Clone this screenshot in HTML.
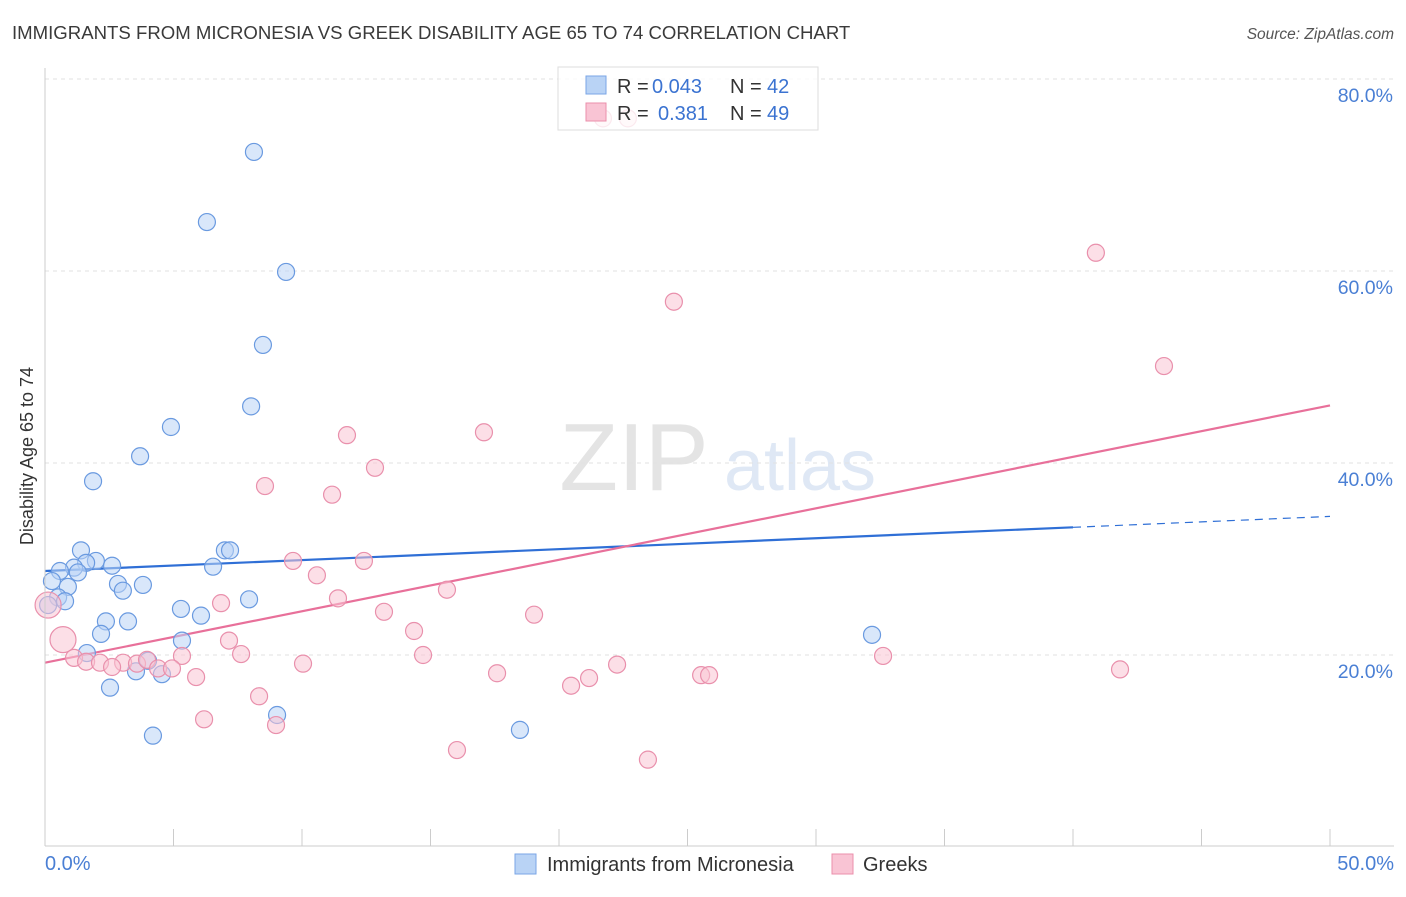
<!DOCTYPE html>
<html><head><meta charset="utf-8"><style>
body{margin:0;background:#fff;font-family:"Liberation Sans",sans-serif}
svg text{font-family:"Liberation Sans",sans-serif}
</style></head><body>
<svg id="c" width="1406" height="892" xmlns="http://www.w3.org/2000/svg">
<text x="12" y="39" font-size="18.6" fill="#3a3a3a">IMMIGRANTS FROM MICRONESIA VS GREEK DISABILITY AGE 65 TO 74 CORRELATION CHART</text>
<text x="1394" y="39" font-size="15.5" fill="#555" font-style="italic" text-anchor="end">Source: ZipAtlas.com</text>
<text x="634" y="490" font-size="96" fill="#e4e4e4" font-family="Liberation Serif" text-anchor="middle">ZIP</text>
<text x="800" y="490" font-size="72" fill="#dfe8f5" text-anchor="middle">atlas</text>
<text transform="translate(33,456) rotate(-90)" font-size="18" fill="#333" text-anchor="middle">Disability Age 65 to 74</text>
<g id="grid"></g><g id="ticks"></g><g id="lines"></g><g id="pts"></g>
<line x1="45" y1="68" x2="45" y2="846" stroke="#ccc"/>
<line x1="45" y1="846" x2="1394" y2="846" stroke="#ccc"/>
<text x="45" y="870" font-size="20" fill="#4a7fd4">0.0%</text>
<text x="1394" y="870" font-size="20" fill="#4a7fd4" text-anchor="end">50.0%</text>
<g>
<rect x="558" y="67" width="260" height="63" fill="#fff" fill-opacity="0.8" stroke="#ddd"/>
<rect x="586" y="76" width="20" height="18" fill="#b9d3f5" stroke="#7aa6e6"/>
<rect x="586" y="103" width="20" height="18" fill="#f9c4d4" stroke="#eb8fab"/>
<text x="617" y="93" font-size="20" fill="#333">R =</text>
<text x="652" y="93" font-size="20" fill="#3b73d1">0.043</text>
<text x="730" y="93" font-size="20" fill="#333">N =</text>
<text x="767" y="93" font-size="20" fill="#3b73d1">42</text>
<text x="617" y="120" font-size="20" fill="#333">R =</text>
<text x="658" y="120" font-size="20" fill="#3b73d1">0.381</text>
<text x="730" y="120" font-size="20" fill="#333">N =</text>
<text x="767" y="120" font-size="20" fill="#3b73d1">49</text>
</g>
<g>
<rect x="515" y="854" width="21" height="20" fill="#b9d3f5" stroke="#7aa6e6"/>
<text x="547" y="871" font-size="20" fill="#333">Immigrants from Micronesia</text>
<rect x="832" y="854" width="21" height="20" fill="#f9c4d4" stroke="#eb8fab"/>
<text x="863" y="871" font-size="20" fill="#333">Greeks</text>
</g>
</svg>
<script>
const yTicks=[20,40,60,80];
const yTickLabels=["20.0%","40.0%","60.0%","80.0%"];
const xTicks=[0,5,10,15,20,25,30,35,40,45,50];
const blueX=[8.13,6.30,9.38,8.48,8.02,4.90,3.70,1.87,1.40,7.00,7.20,1.98,2.61,1.60,1.13,0.58,1.28,6.54,0.27,2.84,3.81,0.89,3.03,0.51,0.78,0.12,7.94,5.29,6.07,2.37,3.23,2.18,5.33,1.63,4.01,3.54,4.55,2.53,9.03,4.20,18.48,32.18];
const blueY=[72.4,65.1,59.9,52.3,45.9,43.75,40.7,38.1,30.9,30.9,30.9,29.8,29.3,29.6,29.1,28.75,28.6,29.2,27.7,27.4,27.3,27.1,26.7,26.0,25.6,25.2,25.8,24.8,24.1,23.5,23.5,22.2,21.5,20.2,19.4,18.3,18.0,16.6,13.75,11.6,12.2,22.1];
const pinkX=[40.89,24.47,43.54,11.75,17.08,12.84,8.56,11.17,9.65,12.41,10.58,15.64,6.85,11.40,13.19,19.03,14.36,0.70,0.12,7.16,7.63,14.71,32.61,1.13,1.60,2.14,3.04,3.58,3.97,5.33,4.40,4.94,10.04,2.61,22.26,41.83,17.59,25.53,25.84,5.88,21.17,20.47,8.33,6.19,8.99,16.03,23.46,21.71,22.68];
const pinkY=[61.9,56.8,50.1,42.9,43.2,39.5,37.6,36.7,29.8,29.8,28.3,26.8,25.4,25.9,24.5,24.2,22.5,21.6,25.2,21.5,20.1,20.0,19.9,19.7,19.3,19.2,19.2,19.1,19.5,19.9,18.6,18.6,19.1,18.75,19.0,18.5,18.1,17.9,17.9,17.7,17.6,16.8,15.7,13.3,12.7,10.1,9.1,75.9,75.9];
const pinkBig=[17,18];
const blueTrend=[28.75,33.3];
const pinkTrend=[19.2,46.0];
const NS="http://www.w3.org/2000/svg";
const X=v=>45+v*25.7, Y=v=>847-v*9.6;
function mk(t,a,p){const e=document.createElementNS(NS,t);for(const k in a)e.setAttribute(k,a[k]);const par=document.getElementById(p);par.appendChild(e);return e;}
yTicks.forEach((t,i)=>{
 const g=mk('line',{x1:45,x2:1394,y1:Y(t),y2:Y(t),stroke:'#e2e2e2','stroke-dasharray':'4,4'},'grid');
 
 
 const l=mk('text',{x:1393,y:Y(t)+23,'font-size':19.5,fill:'#4a7fd4','text-anchor':'end'},'grid');
 l.textContent=yTickLabels[i];
 
 
});
xTicks.forEach(t=>{
 const k=mk('line',{x1:X(t),x2:X(t),y1:829,y2:846,stroke:'#ccc'},'ticks');
 
 
});
function pts(xs,ys,fill,stroke,name,big){
 xs.forEach((x,i)=>{
  const r=big&&big.includes(i)?13:8.5;
  const c=mk('circle',{cx:X(x),cy:Y(ys[i]),r:r,fill:fill,stroke:stroke,'stroke-width':1.2,'fill-opacity':0.55},'pts');
  
  
 });
}
pts(blueX,blueY,'#b9d3f5','#6a9ae0','micronesia-point');
pts(pinkX,pinkY,'#f9c4d4','#e990ac','greeks-point',pinkBig);
const b1=mk('line',{x1:X(0),y1:Y(blueTrend[0]),x2:X(40),y2:Y(blueTrend[1]),stroke:'#2f6fd6','stroke-width':2.2},'lines');


const slope=(blueTrend[1]-blueTrend[0])/40;
const b2=mk('line',{x1:X(40),y1:Y(blueTrend[1]),x2:X(50),y2:Y(blueTrend[0]+slope*50),stroke:'#2f6fd6','stroke-width':1.2,'stroke-dasharray':'8,6'},'lines');


const p1=mk('line',{x1:X(0),y1:Y(pinkTrend[0]),x2:X(50),y2:Y(pinkTrend[1]),stroke:'#e8709a','stroke-width':2.2},'lines');


</script>
</body></html>
